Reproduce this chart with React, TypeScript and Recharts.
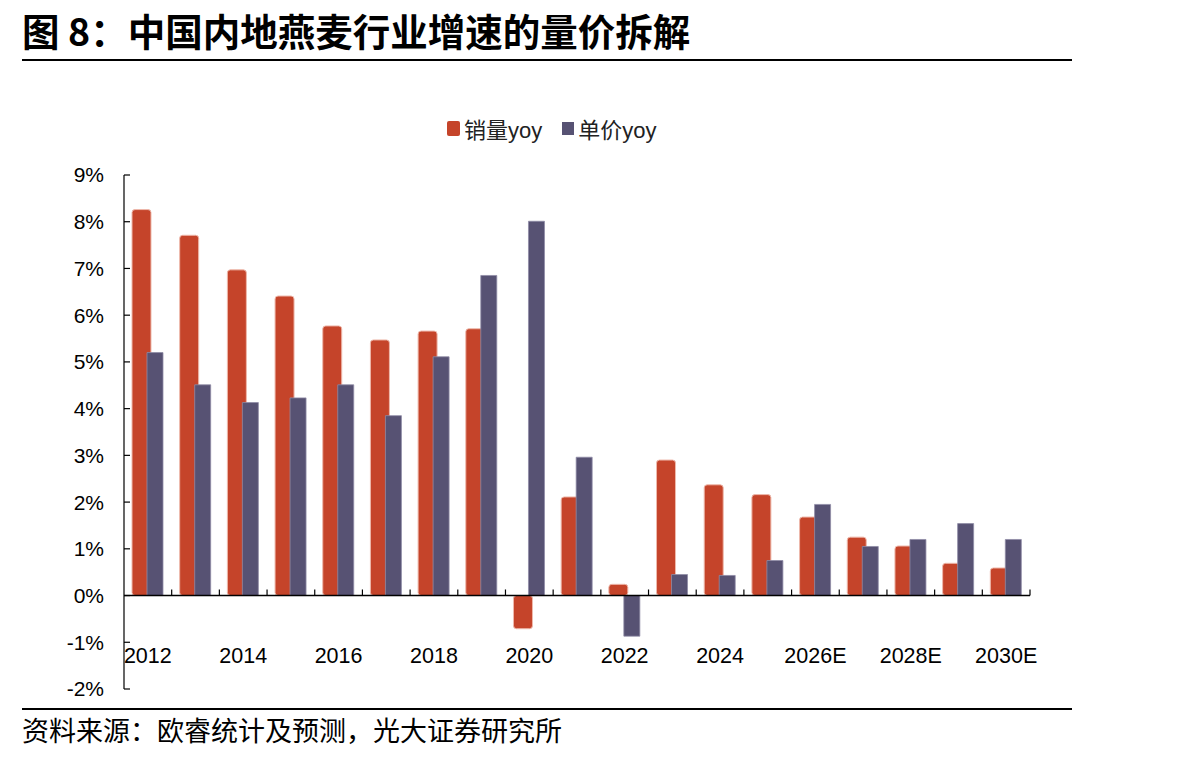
import { BarChart, Bar, XAxis, YAxis, ReferenceLine } from 'recharts'

const years = [
  '2012', '2013', '2014', '2015', '2016', '2017', '2018', '2019', '2020', '2021',
  '2022', '2023', '2024', '2025', '2026E', '2027E', '2028E', '2029E', '2030E'
]
const volumeYoy = [8.26, 7.71, 6.97, 6.41, 5.77, 5.47, 5.66, 5.71, -0.71, 2.11, 0.24, 2.9, 2.37, 2.16, 1.68, 1.25, 1.06, 0.69, 0.59]
const priceYoy = [5.2, 4.51, 4.13, 4.23, 4.51, 3.85, 5.11, 6.85, 8.01, 2.96, -0.87, 0.45, 0.43, 0.75, 1.95, 1.05, 1.2, 1.54, 1.2]
const yTicks = [-2, -1, 0, 1, 2, 3, 4, 5, 6, 7, 8, 9]

const data = years.map((year, i) => ({ year, volume: volumeYoy[i], price: priceYoy[i] }))

const RED = '#C5442A'
const BLUE = '#575273'
const FONT = '"Liberation Sans", Arial, "Noto Sans CJK SC", sans-serif'

const YearTick = (props: any) => {
  const { x, y, payload } = props
  if (payload.index % 2 !== 0) return null
  return (
    <text x={x} y={y - 33} textAnchor='middle' dominantBaseline='central' fontSize={21.5} fill='#000' fontFamily={FONT}>
      {payload.value}
    </text>
  )
}

export default function App() {
  return (
    <div style={{ position: 'absolute', left: 0, top: 0, width: 1204, height: 757, background: '#fff' }}>
      <div
        style={{
          position: 'absolute', left: 22, top: 2, fontFamily: '"Noto Sans CJK SC", sans-serif',
          fontWeight: 700, fontSize: 37.5, color: '#000', whiteSpace: 'nowrap'
        }}
      >
        图 8：中国内地燕麦行业增速的量价拆解
      </div>
      <div style={{ position: 'absolute', left: 22, top: 59, width: 1050, height: 2, background: '#000' }} />

      {/* legend */}
      <div
        style={{
          position: 'absolute', left: 447, top: 112, display: 'flex', alignItems: 'center', gap: 20,
          fontFamily: FONT, fontSize: 22, color: '#222'
        }}
      >
        <div style={{ display: 'flex', alignItems: 'center', gap: 4 }}>
          <div style={{ width: 13, height: 15, background: RED, borderRadius: 2 }} />
          <span>销量yoy</span>
        </div>
        <div style={{ display: 'flex', alignItems: 'center', gap: 4 }}>
          <div style={{ width: 12, height: 13, background: BLUE }} />
          <span>单价yoy</span>
        </div>
      </div>

      <div style={{ position: 'absolute', left: 0, top: 0 }}>
        <BarChart
          width={1204}
          height={757}
          data={data}
          margin={{ top: 175, right: 174, bottom: 38, left: 64 }}
          barGap={-4}
        >
          <XAxis
            dataKey='year'
            axisLine={false}
            tickLine={false}
            tickSize={0}
            tickMargin={0}
            height={30}
            interval={0}
            tick={YearTick}
          />
          <YAxis
            domain={[-2, 9]}
            ticks={yTicks}
            interval={0}
            width={60}
            axisLine={{ stroke: '#000', strokeWidth: 1.2 }}
            tickLine={{ stroke: '#000', strokeWidth: 1.2 }}
            tickSize={-6}
            tickMargin={26}
            tickFormatter={(v: number) => `${v}%`}
            tick={{ fontSize: 21, fill: '#000', fontFamily: FONT }}
          />
          <Bar dataKey='volume' name='销量yoy' fill={RED} stroke='#eeb9ac' strokeWidth={1} radius={3} barSize={19} isAnimationActive={false} />
          <Bar dataKey='price' name='单价yoy' fill={BLUE} stroke='#8f8ca6' strokeWidth={0.8} barSize={16} isAnimationActive={false} />
          <ReferenceLine y={0} stroke='#000' strokeWidth={1.5} />
          {years.map((y) => (
            <ReferenceLine
              key={y}
              segment={[{ x: y, y: 0 }, { x: y, y: 0.13 }]}
              position='end'
              stroke='#000'
              strokeWidth={1.2}
            />
          ))}
        </BarChart>
      </div>

      <div style={{ position: 'absolute', left: 22, top: 708, width: 1050, height: 2, background: '#000' }} />
      <div
        style={{
          position: 'absolute', left: 22, top: 710, fontFamily: '"Noto Sans CJK SC", sans-serif',
          fontSize: 27, color: '#000', whiteSpace: 'nowrap'
        }}
      >
        资料来源：欧睿统计及预测，光大证券研究所
      </div>
    </div>
  )
}
